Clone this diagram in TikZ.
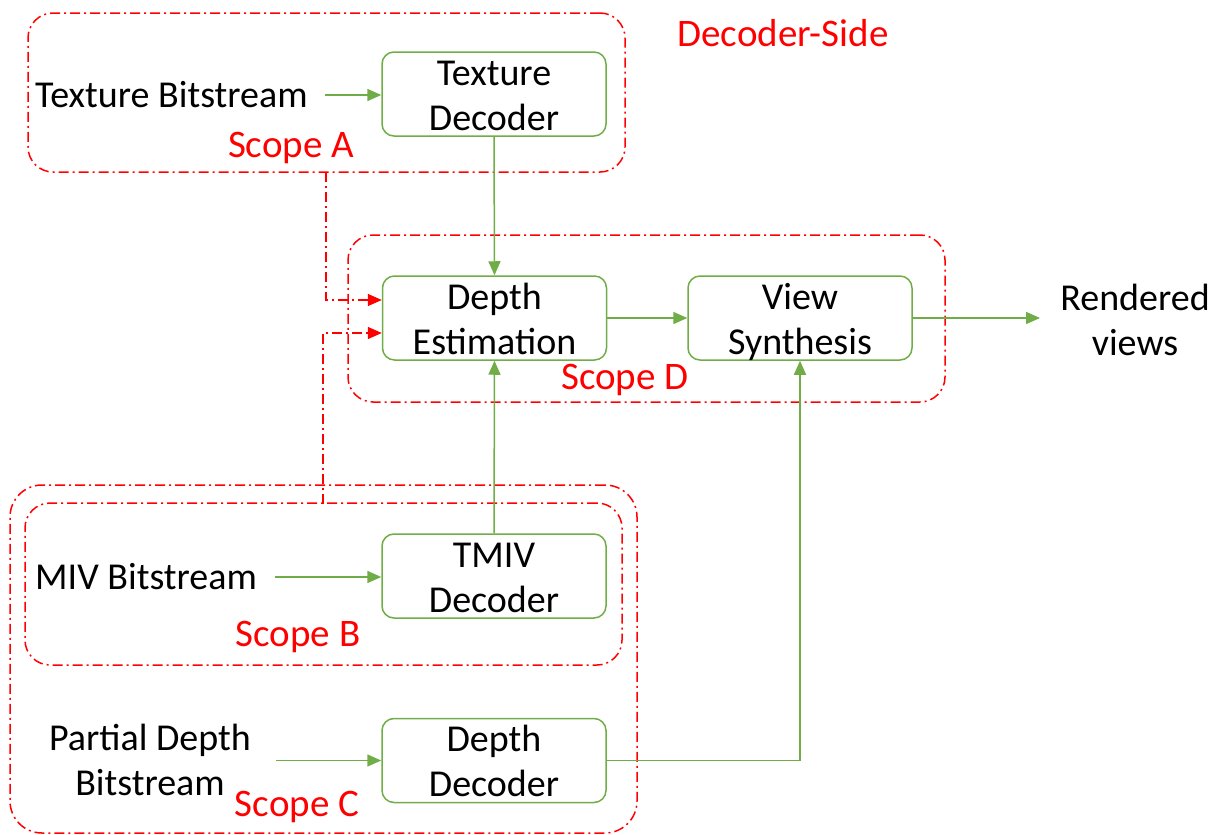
\documentclass[tikz,border=0pt]{standalone}
\usepackage{fontspec}
\setmainfont{Carlito}
\usetikzlibrary{arrows.meta}
\definecolor{ogreen}{RGB}{112,173,71}
\definecolor{ored}{RGB}{255,0,0}
\begin{document}
\begin{tikzpicture}[x=1pt,y=-1pt,
  blk/.style={draw=ogreen, line width=1.5pt, rounded corners=12pt, minimum width=224pt, minimum height=84pt, align=center, inner sep=0pt, text height=72pt, text depth=0pt, font=\fontsize{38}{45}\selectfont},
  txt/.style={align=center, inner sep=0pt, font=\fontsize{38}{45}\selectfont},
  rtxt/.style={text=ored, inner sep=0pt, font=\fontsize{39}{45}\selectfont},
  scopebox/.style={draw=ored, line width=1.5pt, rounded corners=25pt, inner sep=0pt, dash pattern=on 10pt off 4pt on 2pt off 4pt},
  garrow/.style={draw=ogreen, line width=1.5pt, -{Triangle[length=14pt,width=12pt]}},
  rarrow/.style={draw=ored, line width=1.5pt, dash pattern=on 10pt off 4pt on 2pt off 4pt, -{Triangle[length=14pt,width=12pt]}},
]
\useasboundingbox (0,0) rectangle (1227,835);
% scope boxes
\node[scopebox, minimum width=597pt, minimum height=159pt] (scopeA) at (326.5,92.5) {};
\node[scopebox, minimum width=597pt, minimum height=167pt] (scopeD) at (646.5,318.5) {};
\node[scopebox, minimum width=597pt, minimum height=162pt] (scopeB) at (323.5,584) {};
\node[scopebox, rounded corners=32pt, minimum width=627pt, minimum height=348pt] (scopeC) at (323.5,659) {};
% blocks
\node[blk] (tdec) at (494,94) {Texture\\Decoder};
\node[blk] (depth) at (494.5,318) {Depth\\Estimation};
\node[blk] (vs) at (800,318) {View\\Synthesis};
\node[blk] (tmiv) at (494,576) {TMIV\\Decoder};
\node[blk] (ddec) at (494,760.5) {Depth\\Decoder};
% texts
\node[txt, anchor=west] (tb) at (35,95) {Texture Bitstream};
\node[txt, anchor=west] (miv) at (35,577) {MIV Bitstream};
\node[txt] (pdb) at (150,760) {Partial Depth\\Bitstream};
\node[txt] (rv) at (1135,320) {Rendered\\views};
\node[rtxt] (side) at (783,33) {Decoder-Side};
\node[rtxt] (la) at (291,148) {Scope A};
\node[rtxt] (ld) at (625,380) {Scope D};
\node[rtxt] (lb) at (298,637) {Scope B};
\node[rtxt] (lc) at (297,807) {Scope C};
% coordinates
\coordinate (aOut) at (326,172);
\coordinate (bOut) at (323,504);
\coordinate (rvIn) at (1040,318);
\coordinate (tbOut) at (325,95);
\coordinate (mivOut) at (275,577);
\coordinate (pdbOut) at (276,760.5);
% green arrows
\draw[garrow] (tbOut) -- (tdec.west |- tbOut);
\draw[garrow] (mivOut) -- (tmiv.west |- mivOut);
\draw[garrow] (pdbOut) -- (ddec.west);
\draw[garrow] (tdec.south) -- (depth.north);
\draw[garrow] (tmiv.north) -- (depth.south);
\draw[garrow] (depth.east) -- (vs.west);
\draw[garrow] (vs.east) -- (rvIn);
\draw[garrow] (ddec.east) -| (vs.south);
% red arrows
\draw[rarrow] (aOut) |- ([yshift=18pt]depth.west);
\draw[rarrow] (bOut) |- ([yshift=-15pt]depth.west);
\end{tikzpicture}
\end{document}
